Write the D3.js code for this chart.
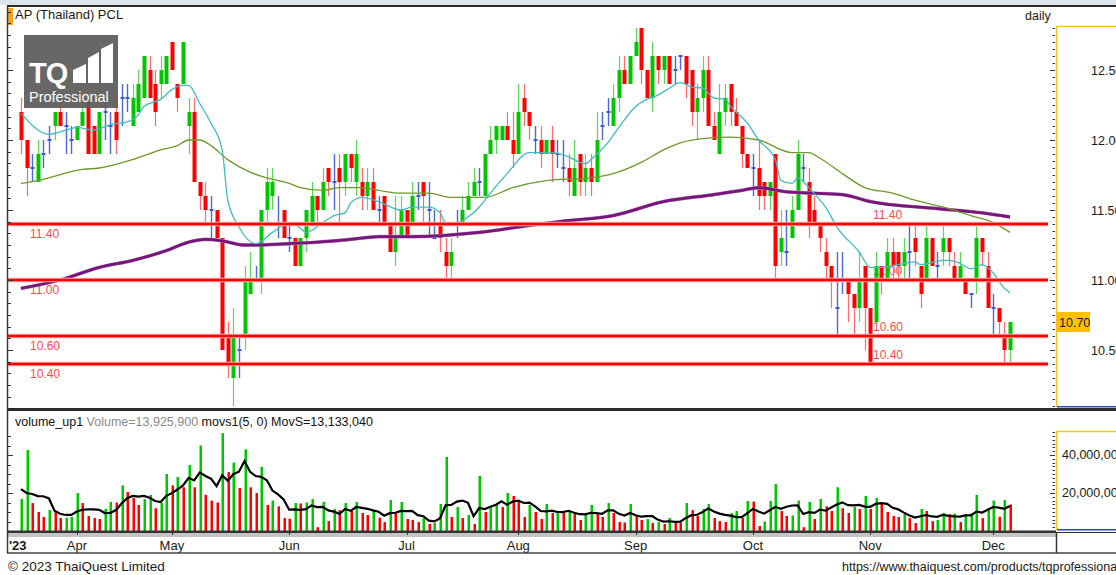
<!DOCTYPE html>
<html lang="en">
<head>
<meta charset="UTF-8">
<title>AP (Thailand) PCL daily</title>
<script src="https://d3js.org/d3.v7.min.js"></script>
<style>
  body { margin: 0; background: #fff; }
  svg { display: block; font-family: "Liberation Sans", Arial, sans-serif; }
  .lvl { font-size: 12px; fill: #ff4a4a; }
  .ax { font-size: 12.5px; fill: #1a1a1a; }
</style>
</head>
<body>
<svg id="chart" width="1116" height="575"></svg>
<script>
// daily candles, 20 Mar 2023 -> 7 Dec 2023 (one entry per trading day)
const opens = [
  12.2,12.0,11.8,11.7,11.9,12.0,12.1,12.2,12.1,12.0,
  12.0,12.1,12.3,12.1,11.9,12.2,12.1,12.2,12.3,12.3,
  12.1,12.2,12.3,12.5,12.4,12.4,12.4,12.7,12.4,12.4,
  12.1,12.2,11.7,11.6,11.5,11.5,11.3,10.6,10.3,10.5,
  10.6,10.9,11.0,11.0,11.5,11.6,11.4,11.5,11.3,11.3,
  11.1,11.3,11.4,11.6,11.5,11.8,11.7,11.8,11.7,11.9,
  11.7,11.7,11.6,11.7,11.5,11.6,11.4,11.2,11.3,11.5,
  11.4,11.6,11.7,11.5,11.3,11.4,11.2,11.1,11.4,11.4,
  11.5,11.6,11.7,11.6,11.9,12.0,12.0,12.1,12.0,11.9,
  12.3,12.2,12.0,12.0,11.9,12.0,11.9,11.8,11.8,11.6,
  11.9,11.7,11.8,11.7,12.1,12.2,12.1,12.3,12.5,12.4,
  12.6,12.8,12.5,12.3,12.6,12.5,12.6,12.5,12.6,12.6,
  12.5,12.2,12.3,12.5,12.1,11.9,12.2,12.4,12.2,12.1,
  11.9,11.8,11.8,11.7,11.6,11.9,11.2,11.2,11.3,11.5,
  11.8,11.7,11.5,11.4,11.2,11.1,10.8,11.0,11.0,10.9,
  10.8,11.1,10.8,10.7,11.1,11.0,11.2,11.2,11.1,11.2,
  11.3,11.1,11.0,11.3,11.1,11.2,11.3,11.1,11.0,11.0,
  10.9,11.0,11.3,11.1,10.8,10.8,10.6,10.5];
const highs = [
  12.3,12.0,11.9,12.0,12.0,12.1,12.2,12.3,12.2,12.1,
  12.1,12.3,12.3,12.1,12.2,12.3,12.2,12.3,12.4,12.4,
  12.4,12.5,12.6,12.6,12.5,12.6,12.6,12.7,12.4,12.7,
  12.3,12.3,11.7,11.7,11.6,11.5,11.3,10.7,10.8,10.6,
  11.1,11.2,11.1,11.5,11.8,11.8,11.6,11.5,11.4,11.3,
  11.3,11.5,11.7,11.6,11.8,11.8,11.9,11.9,11.9,11.9,
  12.0,11.8,11.8,11.8,11.6,11.6,11.4,11.6,11.6,11.5,
  11.7,11.7,11.7,11.7,11.5,11.5,11.3,11.3,11.5,11.6,
  11.7,11.8,11.8,11.9,12.1,12.1,12.1,12.2,12.2,12.4,
  12.4,12.2,12.1,12.1,12.0,12.1,12.0,12.0,11.9,12.0,
  11.9,11.9,11.9,12.2,12.2,12.3,12.4,12.6,12.6,12.6,
  12.8,12.8,12.5,12.7,12.6,12.6,12.6,12.6,12.6,12.6,
  12.5,12.4,12.6,12.6,12.2,12.4,12.4,12.4,12.3,12.1,
  11.9,11.9,12.0,11.7,11.7,11.9,11.5,11.5,11.6,12.0,
  11.9,11.8,11.6,11.4,11.3,11.1,11.2,11.2,11.0,10.9,
  11.2,11.1,10.8,11.2,11.1,11.3,11.3,11.2,11.3,11.4,
  11.4,11.1,11.4,11.3,11.2,11.4,11.3,11.2,11.2,11.0,
  10.9,11.4,11.3,11.2,10.9,10.8,10.7,10.7];
const lows = [
  11.9,11.6,11.7,11.7,11.8,11.9,12.0,12.1,11.9,11.9,
  12.0,12.1,11.9,11.9,11.9,12.0,11.9,11.9,12.1,12.2,
  12.1,12.2,12.3,12.3,12.1,12.3,12.4,12.5,12.2,12.4,
  11.9,11.7,11.5,11.4,11.3,11.3,10.5,10.3,10.1,10.3,
  10.5,10.9,11.0,10.9,11.4,11.5,11.3,11.3,11.2,11.1,
  11.1,11.2,11.4,11.4,11.5,11.6,11.5,11.4,11.6,11.7,
  11.6,11.5,11.5,11.5,11.4,11.4,11.2,11.1,11.3,11.3,
  11.4,11.5,11.4,11.3,11.3,11.2,11.0,11.0,11.3,11.4,
  11.5,11.6,11.6,11.6,11.9,11.9,12.0,12.0,11.8,11.9,
  12.1,12.0,11.9,11.8,11.9,11.7,11.8,11.7,11.6,11.6,
  11.6,11.6,11.6,11.7,12.0,12.1,12.1,12.2,12.4,12.4,
  12.6,12.4,12.3,12.2,12.4,12.4,12.4,12.4,12.5,12.3,
  12.1,12.0,12.2,12.1,12.0,11.9,12.1,12.1,12.1,11.8,
  11.8,11.6,11.5,11.5,11.5,11.0,11.1,11.1,11.3,11.5,
  11.7,11.3,11.4,11.2,11.0,10.8,10.6,10.9,10.7,10.6,
  10.7,10.5,10.4,10.7,10.9,11.0,11.0,11.0,11.0,11.0,
  11.1,10.8,11.0,11.1,11.0,11.1,11.1,11.0,11.0,10.9,
  10.8,10.9,11.1,10.8,10.6,10.6,10.4,10.4];
const closes = [
  12.0,11.8,11.8,11.9,11.9,12.0,12.2,12.1,12.1,12.0,
  12.1,12.2,11.9,11.9,12.2,12.2,12.1,12.0,12.3,12.3,
  12.3,12.4,12.6,12.3,12.2,12.5,12.6,12.5,12.3,12.7,
  12.2,11.7,11.6,11.5,11.5,11.3,10.5,10.4,10.6,10.5,
  11.0,11.0,11.0,11.5,11.7,11.7,11.4,11.3,11.3,11.1,
  11.3,11.5,11.6,11.5,11.7,11.7,11.7,11.7,11.9,11.8,
  11.9,11.6,11.7,11.5,11.5,11.4,11.2,11.3,11.5,11.3,
  11.6,11.6,11.6,11.5,11.3,11.3,11.1,11.2,11.4,11.5,
  11.6,11.7,11.7,11.9,12.0,12.1,12.1,12.0,11.9,12.2,
  12.2,12.1,12.0,11.9,12.0,11.9,11.9,11.8,11.7,11.8,
  11.7,11.8,11.7,12.0,12.1,12.2,12.3,12.5,12.4,12.6,
  12.7,12.5,12.3,12.6,12.5,12.6,12.4,12.5,12.6,12.4,
  12.2,12.3,12.5,12.1,12.0,12.2,12.3,12.2,12.1,11.9,
  11.8,11.8,11.6,11.6,11.7,11.1,11.3,11.2,11.5,11.9,
  11.8,11.4,11.4,11.3,11.1,11.0,10.8,11.0,10.9,10.8,
  11.0,10.8,10.4,11.1,11.0,11.2,11.1,11.1,11.2,11.2,
  11.2,10.9,11.3,11.1,11.1,11.3,11.2,11.0,11.1,10.9,
  10.9,11.3,11.2,10.8,10.8,10.7,10.5,10.7];

// volume in millions of shares
const volumes = [
  16.8,42.6,14.7,10.0,7.4,11.0,10.0,6.8,7.0,7.4,
  20.0,14.7,7.9,6.8,6.3,11.6,15.3,15.0,24.0,20.5,
  17.4,13.7,16.8,19.0,12.0,14.7,30.0,24.0,28.4,23.0,
  34.7,23.0,45.0,19.0,16.0,15.0,51.5,31.0,36.0,22.6,
  43.0,23.0,20.0,33.7,13.7,16.0,13.0,6.8,6.5,14.7,
  14.5,15.0,16.8,2.0,15.3,5.2,11.6,11.0,14.7,10.5,
  15.3,9.5,8.4,10.5,7.0,4.7,16.3,9.5,15.3,6.3,
  5.8,4.7,6.8,3.7,4.2,14.2,39.0,7.4,12.6,6.8,
  8.4,3.7,29.0,10.0,12.6,13.7,12.6,20.0,18.4,15.3,
  7.4,13.7,10.0,6.3,14.2,9.5,10.0,9.5,10.0,8.9,
  5.8,9.5,13.7,8.9,7.4,14.7,9.5,4.7,4.5,14.2,
  8.4,5.8,6.3,4.2,4.7,3.7,6.8,4.7,4.5,14.7,
  11.0,7.9,11.6,14.2,6.8,5.2,4.7,9.5,10.5,6.8,
  15.8,15.5,2.6,5.0,15.8,24.7,10.5,7.9,8.2,16.0,
  2.0,15.3,6.3,16.8,13.0,10.5,23.0,12.0,9.5,12.6,
  11.6,18.4,11.6,17.4,14.2,10.0,7.9,7.4,8.9,6.8,
  4.2,11.6,10.5,5.2,5.8,9.5,8.9,9.2,4.7,8.9,
  9.3,19.0,6.8,12.0,16.0,7.5,16.3,13.9259];
// 5-day volume average for the first days (window reaches before the chart), millions
const movsHead = [22.0, 20.0, 19.5, 18.4];

// moving averages: [day index, price]
const maShort = [[0,12.19],[5,12.04],[8,12.07],[10,12.09],[13,12.07],[16,12.11],[19,12.13],[21,12.18],[22,12.24],[25,12.29],[27,12.36],[29,12.39],[30,12.39],[32,12.26],[34,12.12],[36,11.93],[37,11.57],[39,11.38],[42,11.26],[45,11.34],[48,11.41],[50,11.37],[51,11.34],[54,11.41],[56,11.46],[58,11.48],[59,11.55],[61,11.59],[64,11.56],[68,11.50],[70,11.52],[73,11.52],[75,11.48],[76,11.41],[78,11.41],[80,11.45],[82,11.52],[84,11.62],[87,11.76],[91,11.91],[93,11.91],[95,11.91],[98,11.88],[100,11.84],[101,11.83],[102,11.86],[105,11.98],[107,12.09],[110,12.24],[112,12.29],[114,12.32],[116,12.37],[118,12.41],[120,12.38],[122,12.37],[124,12.30],[126,12.29],[127,12.24],[130,12.12],[132,12.00],[135,11.86],[136,11.71],[138,11.69],[139,11.73],[141,11.66],[143,11.57],[144,11.52],[146,11.38],[150,11.20],[152,11.09],[154,11.09],[157,11.11],[160,11.13],[161,11.11],[165,11.14],[166,11.14],[168,11.12],[170,11.08],[172,11.11],[174,11.05],[176,10.94],[177,10.91]];
const maMid = [[0,11.69],[3,11.71],[11,11.79],[14,11.80],[20,11.86],[25,11.93],[28,11.96],[30,12.00],[32,12.00],[34,11.96],[37,11.86],[41,11.77],[44,11.73],[46,11.71],[48,11.69],[50,11.66],[54,11.64],[57,11.66],[61,11.66],[64,11.64],[68,11.62],[73,11.62],[77,11.59],[81,11.59],[83,11.59],[88,11.66],[94,11.71],[102,11.73],[106,11.76],[111,11.84],[115,11.93],[118,11.98],[122,12.01],[127,12.02],[132,12.00],[138,11.91],[141,11.91],[143,11.87],[147,11.76],[151,11.66],[156,11.62],[160,11.57],[166,11.51],[170,11.46],[174,11.41],[177,11.34]];
const maLong = [[0,10.94],[7,11.00],[14,11.09],[20,11.14],[26,11.21],[30,11.27],[33,11.29],[36,11.28],[40,11.25],[43,11.25],[48,11.26],[53,11.27],[59,11.29],[64,11.31],[70,11.31],[82,11.34],[91,11.39],[97,11.42],[106,11.46],[115,11.56],[124,11.61],[129,11.64],[132,11.66],[137,11.63],[142,11.62],[147,11.61],[152,11.56],[164,11.51],[172,11.48],[177,11.45]];

const levels = [11.40, 11.00, 10.60, 10.40];
const priceTicks = [10.5, 11.0, 11.5, 12.0, 12.5];
const volTicks = [20e6, 40e6];
const monthLabels = ["Apr", "May", "Jun", "Jul", "Aug", "Sep", "Oct", "Nov", "Dec"];
const monthStart = [10, 27, 48, 69, 89, 110, 131, 152, 174];
const lastPrice = 10.70;
const lastMovs = 13133040;

const svg = d3.select("#chart");
const x = d3.scaleLinear().domain([0, opens.length - 1]).range([21, 1010]);
const y = d3.scaleLinear().domain([10, 12.5]).range([420, 70]);
const yv = d3.scaleLinear().domain([0, 40e6]).range([531, 455]);
const px = i => Math.round(x(i));

// window strip on top
svg.append("rect").attr("width", 1116).attr("height", 5).attr("fill", "#dce5ee");

const defs = svg.append("defs");
defs.append("clipPath").attr("id", "pclip").append("rect")
  .attr("x", 8).attr("y", 8).attr("width", 1048).attr("height", 399);
defs.append("clipPath").attr("id", "vclip").append("rect")
  .attr("x", 8).attr("y", 412).attr("width", 1048).attr("height", 119);

// ---------- price panel ----------
const price = svg.append("g").attr("clip-path", "url(#pclip)");

levels.forEach(v => {
  price.append("text").attr("class", "lvl").attr("x", 30).attr("y", y(v) + 14).text(v.toFixed(2));
  price.append("text").attr("class", "lvl").attr("x", 873).attr("y", y(v) - 5).text(v.toFixed(2));
});

const candles = opens.map((o, i) => ({i, o, h: highs[i], l: lows[i], c: closes[i]}));
const dir = d => d.c > d.o ? "up" : (d.c < d.o ? "down" : "flat");
const bodyCol = {up: "#00c600", down: "#ff0000", flat: "#3a5cd4"};
const wickCol = {up: "#5bd85b", down: "#ff6a6a", flat: "#4a68d8"};

const cg = price.append("g");
cg.selectAll("line.wick").data(candles).join("line")
  .attr("class", "wick")
  .attr("x1", d => px(d.i) + 0.5).attr("x2", d => px(d.i) + 0.5)
  .attr("y1", d => y(d.h)).attr("y2", d => y(d.l))
  .attr("stroke", d => wickCol[dir(d)])
  .attr("stroke-width", d => dir(d) === "flat" ? 1.4 : 1.2);
cg.selectAll("rect.body").data(candles.filter(d => dir(d) !== "flat")).join("rect")
  .attr("class", "body")
  .attr("x", d => px(d.i) - 1.5).attr("width", 4)
  .attr("y", d => y(Math.max(d.o, d.c)))
  .attr("height", d => Math.abs(y(d.o) - y(d.c)))
  .attr("fill", d => bodyCol[dir(d)]);
cg.selectAll("line.doji").data(candles.filter(d => dir(d) === "flat")).join("line")
  .attr("class", "doji")
  .attr("x1", d => px(d.i) - 1.5).attr("x2", d => px(d.i) + 2.5)
  .attr("y1", d => y(d.c)).attr("y2", d => y(d.c))
  .attr("stroke", bodyCol.flat).attr("stroke-width", 2);

const maLine = d3.line().x(d => x(d[0])).y(d => y(d[1])).curve(d3.curveMonotoneX);
price.append("path").datum(maLong).attr("d", maLine)
  .attr("fill", "none").attr("stroke", "#b98ab9").attr("stroke-width", 3.6);
price.append("path").datum(maLong).attr("d", maLine)
  .attr("fill", "none").attr("stroke", "#76157a").attr("stroke-width", 2.8);
price.append("path").datum(maMid).attr("d", maLine)
  .attr("fill", "none").attr("stroke", "#6e9a2c").attr("stroke-width", 1.3);
price.append("path").datum(maShort).attr("d", maLine)
  .attr("fill", "none").attr("stroke", "#3dbcc2").attr("stroke-width", 1.3);

levels.forEach(v => {
  price.append("line").attr("x1", 7).attr("x2", 1048).attr("y1", y(v)).attr("y2", y(v))
    .attr("stroke", "#ffaaaa").attr("stroke-width", 4.6);
  price.append("line").attr("x1", 7).attr("x2", 1048).attr("y1", y(v)).attr("y2", y(v))
    .attr("stroke", "#ff0000").attr("stroke-width", 2.6);
});

// TQ Professional badge
const logo = svg.append("g").attr("opacity", 0.93);
logo.append("rect").attr("x", 24).attr("y", 35).attr("width", 94).attr("height", 73).attr("fill", "#5c5c5c");
logo.append("text").attr("x", 29).attr("y", 83).attr("fill", "#fff")
  .attr("font-size", 29).attr("font-weight", "bold").attr("letter-spacing", -1).text("TQ");
[[73, 86, 70, 64], [88, 99, 58, 52], [101, 113, 49, 43]].forEach(b => {
  logo.append("polygon").attr("fill", "#fff")
    .attr("points", `${b[0]},83 ${b[0]},${b[2]} ${b[1]},${b[3]} ${b[1]},83`);
});
logo.append("text").attr("x", 29).attr("y", 102).attr("fill", "#fff")
  .attr("font-size", 14.5).text("Professional");

// frame + title
svg.append("line").attr("x1", 7).attr("x2", 1116).attr("y1", 6).attr("y2", 6)
  .attr("stroke", "#2b2b2b").attr("stroke-width", 2);
svg.append("rect").attr("x", 8).attr("y", 8).attr("width", 5).attr("height", 17).attr("fill", "#f6a21e");
svg.append("text").attr("x", 15).attr("y", 19).attr("font-size", 13).attr("fill", "#1a1a1a")
  .text("AP (Thailand) PCL");
svg.append("text").attr("x", 1025).attr("y", 20).attr("font-size", 12.5).attr("fill", "#1a1a1a")
  .text("daily");

// left ticks (price)
d3.range(2, 36).forEach(k => {
  const yy = Math.round(y(10 + k / 12)) + 0.5;
  svg.append("line").attr("x1", 8).attr("x2", k % 6 === 0 ? 13 : 11).attr("y1", yy).attr("y2", yy)
    .attr("stroke", "#333").attr("stroke-width", 1);
});

// right price axis
svg.append("line").attr("x1", 1056.5).attr("x2", 1056.5).attr("y1", 26).attr("y2", 407)
  .attr("stroke", "#f3c21a").attr("stroke-width", 1.5);
svg.append("line").attr("x1", 1056).attr("x2", 1116).attr("y1", 26.5).attr("y2", 26.5)
  .attr("stroke", "#f3c21a").attr("stroke-width", 1.5);
d3.range(202, 257).forEach(k => {
  const yy = Math.round(y(k / 20)) + 0.5;
  svg.append("line").attr("x1", k % 10 === 0 ? 1050 : 1052.5).attr("x2", 1055).attr("y1", yy).attr("y2", yy)
    .attr("stroke", "#333").attr("stroke-width", 1);
});
priceTicks.forEach(v => {
  svg.append("text").attr("class", "ax").attr("x", 1091).attr("y", y(v) + 5).text(v.toFixed(2));
});
svg.append("rect").attr("x", 1057).attr("y", y(lastPrice) - 10).attr("width", 33).attr("height", 20)
  .attr("fill", "#ffc000");
svg.append("text").attr("class", "ax").attr("x", 1059).attr("y", y(lastPrice) + 5).text(lastPrice.toFixed(2));
svg.append("rect").attr("x", 1057).attr("y", 406).attr("width", 59).attr("height", 1.5).attr("fill", "#2a4bc0");

// panel separator
svg.append("rect").attr("x", 7).attr("y", 408).attr("width", 1109).attr("height", 3).attr("fill", "#2a2a2a");

// ---------- volume panel ----------
const vg = svg.append("g").attr("clip-path", "url(#vclip)");
const vColor = (v, i) => (i === 0 || v >= volumes[i - 1]) ? "#00c800" : "#ff0000";
vg.selectAll("rect.vol").data(volumes).join("rect")
  .attr("class", "vol")
  .attr("x", (d, i) => px(i) - 0.5).attr("width", 2.5)
  .attr("y", d => yv(d * 1e6)).attr("height", d => 531 - yv(d * 1e6))
  .attr("fill", vColor);

const movs = volumes.map((v, i) => i < 4 ? movsHead[i] : d3.mean(volumes.slice(i - 4, i + 1)));
vg.append("path").datum(movs)
  .attr("d", d3.line().x((d, i) => x(i)).y(d => yv(d * 1e6)))
  .attr("fill", "none").attr("stroke", "#000").attr("stroke-width", 2.2);

const head = svg.append("text").attr("x", 15).attr("y", 426).attr("font-size", 12.5);
head.append("tspan").attr("fill", "#111").text("volume_up1");
head.append("tspan").attr("fill", "#8a8a8a")
  .text(" Volume=" + d3.format(",")(Math.round(volumes[volumes.length - 1] * 1e6)));
head.append("tspan").attr("fill", "#111").text(" movs1(5, 0) MovS=" + d3.format(",")(lastMovs));

// volume ticks
d3.range(1, 11).forEach(k => {
  const yy = Math.round(yv(k * 5e6)) + 0.5;
  svg.append("line").attr("x1", 8).attr("x2", k % 4 === 0 ? 13 : 11).attr("y1", yy).attr("y2", yy)
    .attr("stroke", "#333");
});
svg.append("line").attr("x1", 1056.5).attr("x2", 1056.5).attr("y1", 431).attr("y2", 530)
  .attr("stroke", "#f3c21a").attr("stroke-width", 1.5);
svg.append("line").attr("x1", 1056).attr("x2", 1116).attr("y1", 431.5).attr("y2", 431.5)
  .attr("stroke", "#f3c21a").attr("stroke-width", 1.5);
d3.range(0, 27).forEach(k => {
  const yy = Math.round(yv(k * 2e6)) + 0.5;
  svg.append("line").attr("x1", k % 10 === 0 && k > 0 ? 1050 : 1052.5).attr("x2", 1055).attr("y1", yy).attr("y2", yy)
    .attr("stroke", "#333");
});
volTicks.forEach(v => {
  svg.append("text").attr("class", "ax").attr("x", 1062).attr("y", yv(v) + 4).text(d3.format(",")(v));
});
svg.append("rect").attr("x", 1057).attr("y", 529).attr("width", 59).attr("height", 1.5).attr("fill", "#2a4bc0");

// x axis
svg.append("rect").attr("x", 7).attr("y", 530.5).attr("width", 1049).attr("height", 1.5).attr("fill", "#333");
svg.append("rect").attr("x", 7).attr("y", 532).attr("width", 1109).attr("height", 1).attr("fill", "#333");
svg.append("rect").attr("x", 7).attr("y", 533).attr("width", 1049).attr("height", 4).attr("fill", "#c4c4c4");
monthStart.forEach((m, k) => {
  svg.append("line").attr("x1", px(m) + 0.5).attr("x2", px(m) + 0.5).attr("y1", 531).attr("y2", 535)
    .attr("stroke", "#333");
  svg.append("text").attr("x", x(m)).attr("y", 550).attr("text-anchor", "middle")
    .attr("font-size", 13).attr("fill", "#1a1a1a").text(monthLabels[k]);
});
svg.append("text").attr("x", 9).attr("y", 550).attr("font-size", 13).attr("font-weight", "bold")
  .attr("fill", "#1a1a1a").text("'23");
svg.append("line").attr("x1", 1056.5).attr("x2", 1056.5).attr("y1", 532).attr("y2", 553)
  .attr("stroke", "#333").attr("stroke-width", 1.5);
svg.append("line").attr("x1", 7).attr("x2", 1116).attr("y1", 553).attr("y2", 553)
  .attr("stroke", "#444").attr("stroke-width", 1.5);

// left border
svg.append("line").attr("x1", 7.5).attr("x2", 7.5).attr("y1", 6).attr("y2", 553)
  .attr("stroke", "#3a3a3a").attr("stroke-width", 1.5);

// footer
svg.append("text").attr("x", 8).attr("y", 571).attr("font-size", 13.5).attr("fill", "#1a1a1a")
  .text("\u00a9 2023 ThaiQuest Limited");
svg.append("text").attr("x", 842).attr("y", 571).attr("font-size", 12.5).attr("fill", "#1a1a1a")
  .text("https://www.thaiquest.com/products/tqprofessional");
</script>
</body>
</html>
